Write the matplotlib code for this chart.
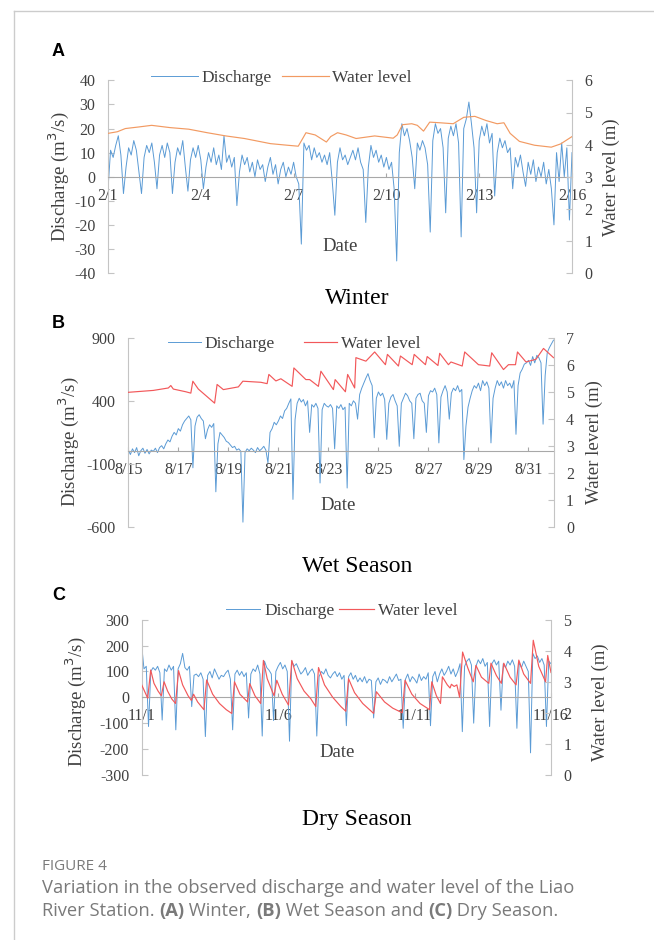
import numpy as np
import matplotlib
matplotlib.use('Agg')
import matplotlib.pyplot as plt
from matplotlib.lines import Line2D

# ---------------- data ----------------
# Panel A (Winter): discharge every 2 h from 2/1 00:00 (m3/s)
winter_q = [
    -5, 11, 8, 13, 17, 9, -7, 4, 12, 9, 15, 11,
    2, -7, 8, 13, 10, 14, 6, -5, 9, 13, 8, 14,
    10, -7, 6, 12, 9, 15, 4, -6, 7, 12, 8, 13,
    7, -5, 4, 10, 6, 12, 5, 9, 3, 17, 6, 9,
    4, 8, -12, 2, 9, 5, 8, 2, 6, 0, 7, 3,
    5, -2, 4, 8, 1, 5, -3, 3, 6, 0, 4, 1,
    6, 0, -3, -28, 14, 11, 13, 7, 12, 8, 10, 6,
    9, 5, 10, -2, -16, 6, 12, 7, 9, 5, 8, 11,
    7, 12, 6, 3, -19, 4, 13, 8, 11, 6, 9, 4,
    8, 3, 6, -5, -35, 10, 22, 17, 20, 15, 8, -5,
    14, 11, 15, 12, 5, -23, 15, 22, 18, 20, 12, -15,
    16, 21, 17, 22, 14, -25, 20, 24, 31, 22, 12, -15,
    15, 21, 17, 22, 14, 18, -8, 10, 16, 12, 15, 10,
    12, -5, 8, 4, 9, 2, -4, 6, 1, 7, -2, 4,
    0, 6, -3, 3, -5, -20, 10, -2, 14, 0, 12, -18,
    10]
winter_level_t = [0, 0.3, 0.56, 1.0, 1.41, 2.0, 2.61, 3.21, 3.81, 4.41, 5.25, 5.8, 6.15,
                  6.3, 6.4, 6.7, 7.06, 7.2, 7.42, 7.7, 8.02, 8.62, 9.22, 9.35, 9.52, 9.82,
                  10.0, 10.2, 10.4, 10.73, 11.16, 11.5, 11.86, 12.22, 12.58, 12.8, 13.0,
                  13.3, 13.79, 14.33, 14.63, 15.0]
winter_level = [4.35, 4.4, 4.5, 4.55, 4.6, 4.53, 4.48, 4.37, 4.27, 4.19, 4.03, 3.98, 3.95,
                4.2, 4.37, 4.3, 4.08, 4.25, 4.37, 4.3, 4.19, 4.27, 4.2, 4.3, 4.62, 4.65,
                4.6, 4.42, 4.7, 4.68, 4.65, 4.85, 4.88, 4.75, 4.65, 4.68, 4.35,
                4.1, 3.98, 3.92, 4.02, 4.25]
winter_ticks = ['2/1', '2/4', '2/7', '2/10', '2/13', '2/16']
winter_tick_days = [0, 3, 6, 9, 12, 15]

# Panel B (Wet season): discharge every 2 h from 8/15 00:00
wet_q = [
    10, -25, 20, -10, 30, -35, 5, 25, -15, 15, -20, 10,
    0, 25, -10, 30, 45, 20, 60, 90, 75, 120, 150, 130,
    180, 160, 210, 240, 260, 280, 250, -130, 200, 270, 290, 260,
    240, 100, 170, 210, 190, 220, -320, 60, 150, 130, 110, 80,
    70, 50, 30, 40, 10, 20, 0, -560, -10, 20, 5, 25,
    10, -10, 30, 5, 20, 40, 10, -90, 150, 180, 230, 210,
    240, 280, 260, 320, 340, 380, 415, -380, 250, 380, 420, 390,
    410, 360, 400, 150, 370, 350, 380, 340, -250, 330, 380, 360,
    350, 370, 340, 20, 360, 340, 370, 330, 350, -290, 380, 360,
    400, 380, 255, 450, 500, 540, 580, 615, 560, 520, 108, 420,
    470, 440, 460, 410, 95, 380, 430, 450, 400, 360, 40, 380,
    420, 460, 440, 400, 380, 100, 420, 450, 460, 400, 380, 150,
    440, 480, 470, 500, 450, 67, 430, 480, 520, 470, 255, 460,
    500, 480, 520, 470, 490, -65, 200, 350, 420, 480, 520, 500,
    540, 480, 560, 520, 550, 500, 67, 420, 500, 560, 520, 550,
    500, 560, 520, 540, 500, 560, 135, 520, 620, 650, 690, 700,
    720, 680, 750, 700, 760, 740, 700, 215, 600, 780, 820, 850,
    880]
wet_level_t = [0, 1.0, 1.6, 1.7, 1.8, 2.3, 2.5, 2.58, 2.8, 3.45, 3.55, 3.8, 4.4, 4.58, 5.3,
               5.55, 5.62, 5.9, 6.1, 6.55, 6.62, 7.1, 7.25, 7.6, 7.7, 8.2, 8.27, 8.68, 8.77,
               9.05, 9.1, 9.5, 9.85, 10.28, 10.36, 10.8, 10.88, 11.35, 11.43, 11.88, 11.95,
               12.38, 12.45, 12.8, 12.9, 13.35, 13.45, 14.0, 14.45, 14.53, 15.0, 15.2, 15.48,
               15.56, 15.9, 16.3, 16.6, 17.0]
wet_level = [4.98, 5.05, 5.14, 5.23, 5.1, 5.0, 4.95, 5.39, 5.1, 4.58, 5.27, 5.08, 5.18, 5.39, 5.35,
             5.3, 5.64, 5.4, 5.48, 5.2, 5.88, 5.45, 5.45, 5.2, 5.76, 5.08, 5.45, 5.0, 5.64,
             5.14, 6.26, 6.13, 6.47, 6.0, 6.38, 5.95, 6.32, 6.0, 6.38, 6.0, 6.3,
             5.97, 6.42, 6.0, 6.1, 5.95, 6.47, 6.0, 5.95, 6.44, 5.82, 6.0, 6.0,
             6.47, 6.1, 6.2, 6.6, 6.26]
wet_ticks = ['8/15', '8/17', '8/19', '8/21', '8/23', '8/25', '8/27', '8/29', '8/31']
wet_tick_days = [0, 2, 4, 6, 8, 10, 12, 14, 16]

# Panel C (Dry season): discharge every 2 h from 11/1 00:00
dry_q = [
    200, 110, 120, -113, 100, 115, 105, 120, 95, -88, 110, 100,
    125, 105, 120, -126, 110, 130, 170, 115, 105, 120, -36, 85,
    90, 80, 95, 70, -152, 85, 100, 75, 110, 90, 70, 85,
    80, 95, 105, 70, -126, 90, 105, 85, 100, 80, 95, -80,
    90, 110, 100, 125, 90, -150, 140, 115, 105, 90, -90, 100,
    120, 135, 110, 125, 100, -170, 140, 120, 130, 110, 90, 100,
    115, 85, 100, 110, 90, -150, 80, 100, 90, 110, 85, 75,
    90, 100, 80, 95, 70, 85, -110, 80, 95, 70, 85, 60,
    75, 60, 80, 55, 70, 65, -80, 60, 75, 50, 70, 65,
    55, 80, 60, 75, 90, 65, 70, -120, 70, 90, 60, 80,
    70, 55, 90, 65, 80, 70, 95, -110, 80, 100, 60, 90,
    110, 85, 100, 120, 90, 110, 80, 100, 130, -133, 120, 140,
    150, 125, -100, 120, 145, 130, 150, 120, 135, -113, 130, 145,
    125, 140, -50, 130, 115, 140, 125, 145, 120, -120, 135, 115,
    140, 120, 100, -215, 170, 150, 160, 135, 150, 125, -113, 140,
    130]
dry_level_t = [0, 0.22, 0.33, 0.45, 0.6, 0.72, 0.82, 0.95, 1.1, 1.24, 1.35, 1.5, 1.7, 1.82,
               1.9, 2.05, 2.28, 2.38, 2.6, 2.85, 3.1, 3.3, 3.4, 3.6, 3.88, 3.96, 4.15, 4.36,
               4.46, 4.6, 4.85, 4.95, 5.15, 5.38, 5.5, 5.7, 5.95, 6.2, 6.38, 6.48, 6.7, 7.0,
               7.3, 7.48, 7.58, 7.8, 8.1, 8.5, 8.6, 8.9, 9.2, 9.55, 9.65, 9.9, 10.2, 10.55,
               10.63, 10.8, 10.95, 11.02, 11.2, 11.3, 11.35, 11.45, 11.55, 11.65, 11.76,
               11.95, 12.15, 12.25, 12.45, 12.72, 12.8, 13.0, 13.18, 13.27, 13.5, 13.72,
               13.82, 14.0, 14.25, 14.35, 14.55, 14.8, 14.88, 15.0]
dry_level = [2.9, 2.47, 3.38, 2.95, 2.7, 2.55, 3.0, 2.7, 2.45, 2.3, 3.36, 2.9, 2.55, 2.4,
             2.6, 2.35, 2.1, 3.06, 2.6, 2.3, 2.1, 1.98, 3.0, 2.6, 2.35, 2.94, 2.55, 2.3,
             3.69, 3.1, 2.55, 3.05, 2.6, 2.25, 3.69, 3.1, 2.7, 2.45, 2.2, 3.46, 2.9, 2.5,
             2.2, 2.05, 3.1, 2.65, 2.3, 1.98, 2.68, 2.35, 2.15, 2.0, 3.05, 2.6, 2.3, 2.1,
             3.0, 2.55, 2.3, 3.16, 2.9, 2.8, 2.92, 2.85, 2.9, 2.5, 3.96,
             3.45, 3.0, 3.53, 3.15, 2.95, 3.6, 3.2, 2.95, 3.6, 3.15, 2.9,
             3.7, 3.25, 2.95, 4.34, 3.5, 3.0, 3.85, 3.3]
dry_ticks = ['11/1', '11/6', '11/11', '11/16']
dry_tick_days = [0, 5, 10, 15]

# ---------------- style ----------------
W, H = 654, 940
plt.rcParams['font.family'] = ['Liberation Serif', 'DejaVu Serif']
plt.rcParams['axes.unicode_minus'] = False
BLUE = '#5b9bd5'
ORANGE = '#f29a62'
RED = '#f2585a'
SPINE = '#c4c4c4'
ZERO = '#a8a8a8'
TXT = '#404040'
FS_TICK = 11.5
FS_LEG = 12.5
FS_LAB = 13.5

fig = plt.figure(figsize=(W / 100, H / 100), dpi=100)


def rect(l, r, t, b):
    return [l / W, 1 - b / H, (r - l) / W, (b - t) / H]


def panel(r, q, lt, lv, ndays, ylim, yticks, y2lim, y2ticks, tick_days, ticks,
          lvl_color, y2label, leg_xy, leg_kw, date_xy, ylab_x, y2lab_x, lab_y):
    ax = fig.add_axes(r)
    t = np.arange(len(q)) / 12.0
    l1, = ax.plot(t, q, color=BLUE, lw=0.7)
    ax.set_xlim(0, ndays)
    ax.set_ylim(*ylim)
    ax.set_yticks(yticks)
    ax.set_xticks(tick_days)
    ax.set_xticklabels(ticks)
    for s in ('top', 'right'):
        ax.spines[s].set_visible(False)
    ax.spines['left'].set_color(SPINE)
    ax.spines['bottom'].set_position(('data', 0))
    ax.spines['bottom'].set_color(ZERO)
    ax.tick_params(axis='y', direction='in', length=4, color=SPINE, pad=9,
                   labelsize=FS_TICK, labelcolor=TXT)
    ax.tick_params(axis='x', direction='in', length=3, color=ZERO, pad=8,
                   labelsize=FS_TICK, labelcolor=TXT)
    ax.set_ylabel('Discharge (m$^3$/s)', fontsize=FS_LAB, color=TXT)
    ax.yaxis.set_label_coords(ylab_x, lab_y)
    ax.text(date_xy[0], date_xy[1], 'Date', transform=ax.transAxes, ha='center',
            va='center', fontsize=FS_LAB, color=TXT)

    ax2 = ax.twinx()
    l2, = ax2.plot(lt, lv, color=lvl_color, lw=0.85)
    ax2.set_ylim(*y2lim)
    ax2.set_yticks(y2ticks)
    for s in ('top', 'left', 'bottom'):
        ax2.spines[s].set_visible(False)
    ax2.spines['right'].set_color(SPINE)
    ax2.tick_params(axis='y', direction='in', length=4, color=SPINE, pad=9,
                    labelsize=FS_TICK, labelcolor=TXT)
    ax2.set_ylabel(y2label, fontsize=FS_LAB, color=TXT)
    ax2.yaxis.set_label_coords(y2lab_x, lab_y)
    leg = ax2.legend([l1, l2], ['Discharge', 'Water level'], loc='center',
                     bbox_to_anchor=leg_xy, ncol=2, frameon=False, fontsize=FS_LEG,
                     borderaxespad=0, borderpad=0, **leg_kw)
    for tx in leg.get_texts():
        tx.set_color(TXT)
    return ax, ax2


# Panel A
panel(rect(108, 572, 80.4, 273), winter_q, winter_level_t, winter_level, 15,
      (-40, 40), range(-40, 41, 10), (0, 6), range(0, 7), winter_tick_days, winter_ticks,
      ORANGE, 'Water level (m)', (0.374, 1.012),
      dict(handlelength=2.7, handletextpad=0.2, columnspacing=0.6),
      (0.5, 0.14), -0.08, 1.066, 0.5)

# Panel B
panel(rect(128.3, 553.5, 337.6, 527.2), wet_q, wet_level_t, wet_level, 17,
      (-600, 900), [-600, -100, 400, 900], (0, 7), range(0, 8), wet_tick_days, wet_ticks,
      RED, 'Water leverl (m)', (0.39, 0.965),
      dict(handlelength=1.9, handletextpad=0.2, columnspacing=1.7),
      (0.493, 0.117), -0.111, 1.076, 0.45)

# Panel C
panel(rect(141.7, 551, 619.8, 774.8), dry_q, dry_level_t, dry_level, 15,
      (-300, 300), range(-300, 301, 100), (0, 5), range(0, 6), dry_tick_days, dry_ticks,
      RED, 'Water level (m)', (0.488, 1.057),
      dict(handlelength=2.0, handletextpad=0.2, columnspacing=0.3),
      (0.477, 0.143), -0.131, 1.1, 0.47)

# panel letters and titles
for letter, y in (('A', 51), ('B', 323), ('C', 596)):
    fig.text(52 / W, 1 - y / H, letter, fontsize=13, fontweight='bold',
             family=['Liberation Sans', 'DejaVu Sans'], va='center', ha='left', color='black')
for title, y in (('Winter', 298), ('Wet Season', 567), ('Dry Season', 820)):
    fig.text(357 / W, 1 - y / H, title, fontsize=17, va='center', ha='center', color='black')

# page frame
fig.add_artist(Line2D([13.8 / W, 1], [1 - 11 / H, 1 - 11 / H], transform=fig.transFigure,
                      color='#cccccc', lw=1))
fig.add_artist(Line2D([13.8 / W, 13.8 / W], [0, 1 - 11 / H], transform=fig.transFigure,
                      color='#cccccc', lw=1))

# caption
CAP = ['Open Sans', 'DejaVu Sans']
CAPC = '#7a7a7a'
FS_CAP = 13.25
fig.text(42 / W, 1 - 866 / H, 'FIGURE 4', fontsize=11, family=CAP, color=CAPC,
         va='center', ha='left')
fig.text(42 / W, 1 - 888 / H, 'Variation in the observed discharge and water level of the Liao',
         fontsize=FS_CAP, family=CAP, color=CAPC, va='center', ha='left')

fig.canvas.draw()
renderer = fig.canvas.get_renderer()
pieces = [('River Station. ', 'normal'), ('(A)', 'bold'), (' Winter, ', 'normal'),
          ('(B)', 'bold'), (' Wet Season and ', 'normal'), ('(C)', 'bold'),
          (' Dry Season.', 'normal')]
x = 42.0
for s, wgt in pieces:
    tx = fig.text(x / W, 1 - 911 / H, s, fontsize=FS_CAP, family=CAP, color=CAPC,
                  fontweight=wgt, va='center', ha='left')
    bb = tx.get_window_extent(renderer)
    x += bb.width

fig.savefig('out.png', dpi=100)
